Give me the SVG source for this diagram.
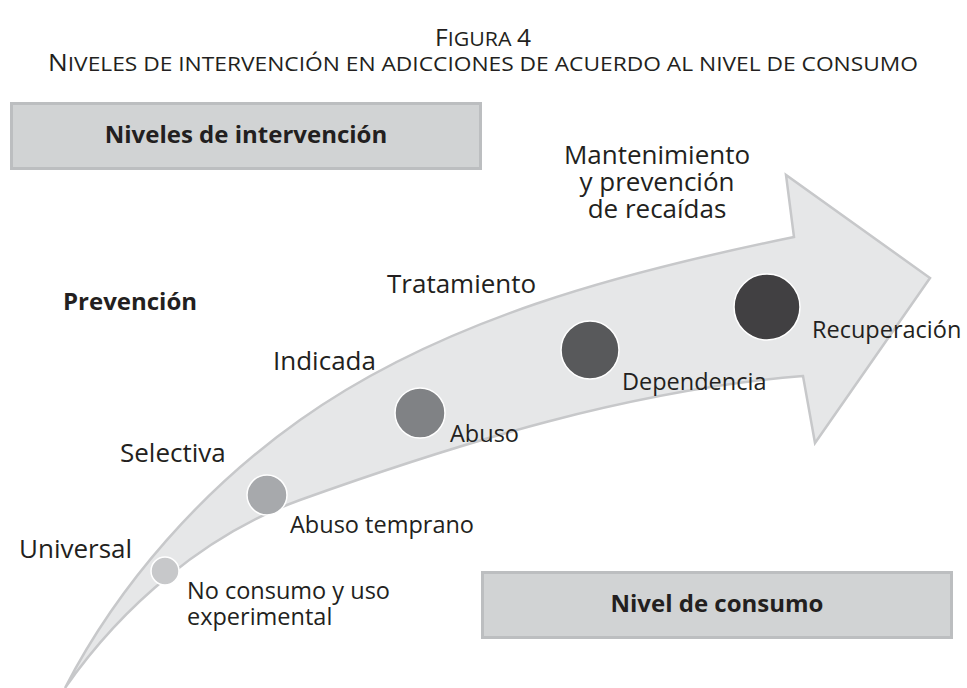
<svg xmlns="http://www.w3.org/2000/svg" width="967" height="688" viewBox="0 0 967 688">
<style>
.t{font-family:"Open Sans","Noto Sans","DejaVu Sans",sans-serif;fill:#231f20}
.title{font-size:20px;text-anchor:middle}
.cap{font-size:23px}
.lvl{font-size:26px}
.stg{font-size:23.5px}
.b{font-size:24px;font-weight:bold}
.box{fill:#d1d3d4;stroke:#bcbec0;stroke-width:3}
.dot{stroke:#ffffff;stroke-width:1.5}
</style>
<rect width="967" height="688" fill="#ffffff"/>
<g id="title">
<text class="t title" x="483" y="46" textLength="96" lengthAdjust="spacingAndGlyphs"><tspan class="cap">F</tspan>IGURA <tspan class="cap">4</tspan></text>
<text class="t title" x="483" y="71" textLength="870" lengthAdjust="spacingAndGlyphs"><tspan class="cap">N</tspan>IVELES DE INTERVENCIÓN EN ADICCIONES DE ACUERDO AL NIVEL DE CONSUMO</text>
</g>
<g id="connectors">
<path id="arrow" d="M65,688 C119,583 204,488 300,420 C442,319 623,272 794,237 L786,175 L930,278 L815,443 L803,376 C632,390 462,442 300,500 C206,534 122,606 65,688 Z" fill="#e6e7e8" stroke="#c7c8ca" stroke-width="2.5" stroke-linejoin="miter"/>
</g>
<g id="box-intervencion">
<rect class="box" x="11.5" y="103.5" width="469" height="65"/>
<text class="t b" x="246" y="143" text-anchor="middle">Niveles de intervención</text>
</g>
<g id="box-consumo">
<rect class="box" x="482.5" y="572.5" width="469" height="65"/>
<text class="t b" x="717" y="612" text-anchor="middle">Nivel de consumo</text>
</g>
<g id="prevencion">
<text class="t b" x="63" y="310">Prevención</text>
</g>
<g id="universal"><text class="t lvl" x="19" y="558">Universal</text></g>
<g id="selectiva"><text class="t lvl" x="120" y="462">Selectiva</text></g>
<g id="indicada"><text class="t lvl" x="273" y="370">Indicada</text></g>
<g id="tratamiento"><text class="t lvl" x="387" y="293">Tratamiento</text></g>
<g id="mantenimiento">
<text class="t lvl" text-anchor="middle"><tspan x="657" y="164">Mantenimiento</tspan><tspan x="657" y="191">y prevención</tspan><tspan x="657" y="218">de recaídas</tspan></text>
</g>
<g id="no-consumo">
<circle class="dot" cx="165" cy="571" r="14" fill="#c7c8ca"/>
<text class="t stg"><tspan x="187" y="599">No consumo y uso</tspan><tspan x="187" y="625">experimental</tspan></text>
</g>
<g id="abuso-temprano">
<circle class="dot" cx="267" cy="495" r="20" fill="#a7a9ac"/>
<text class="t stg" x="290" y="533">Abuso temprano</text>
</g>
<g id="abuso">
<circle class="dot" cx="420" cy="413" r="25" fill="#808285"/>
<text class="t stg" x="450" y="442">Abuso</text>
</g>
<g id="dependencia">
<circle class="dot" cx="590" cy="350" r="29" fill="#58595b"/>
<text class="t stg" x="622" y="390">Dependencia</text>
</g>
<g id="recuperacion">
<circle class="dot" cx="767" cy="307" r="33" fill="#414042"/>
<text class="t stg" x="812" y="338">Recuperación</text>
</g>
</svg>
